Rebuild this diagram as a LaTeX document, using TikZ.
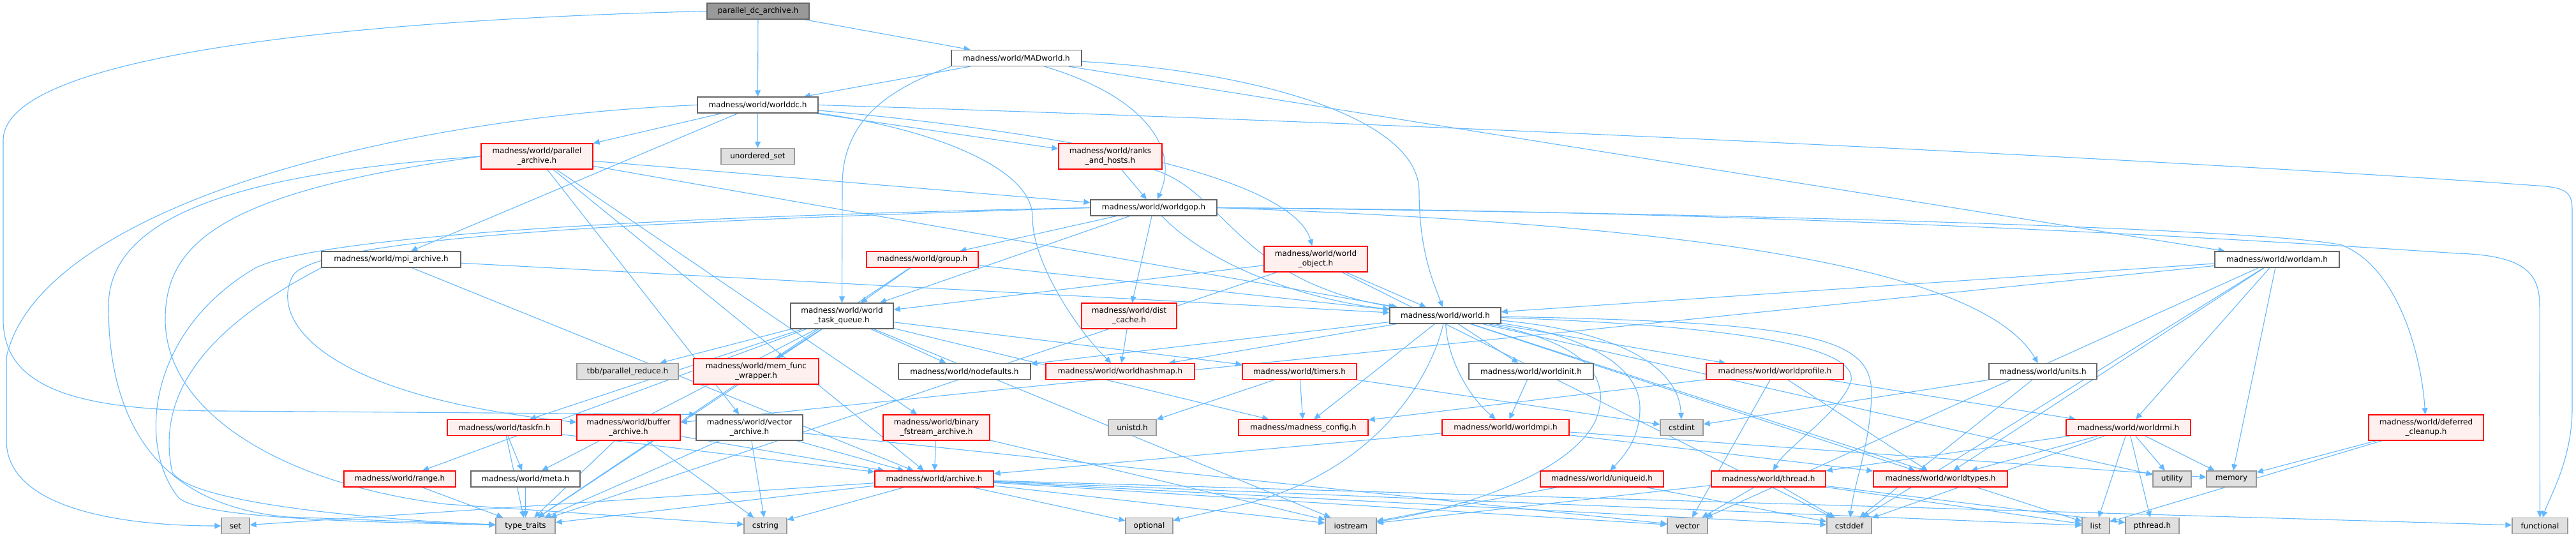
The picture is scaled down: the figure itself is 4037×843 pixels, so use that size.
\documentclass[tikz,border=0pt]{standalone}
\usepackage{fontspec}
\setmainfont{DejaVu Sans}
\usepackage{xcolor}
\usepackage{tikz}
\usetikzlibrary{arrows.meta, backgrounds}

\definecolor{edgeblue}{RGB}{99,184,255}
\definecolor{redline}{RGB}{255,0,0}
\definecolor{redfill}{RGB}{255,240,240}
\definecolor{sysfill}{RGB}{224,224,224}
\definecolor{sysline}{RGB}{153,153,153}
\definecolor{plainline}{RGB}{102,102,102}
\definecolor{rootfill}{RGB}{153,153,153}

\begin{document}
\begin{tikzpicture}[
    x=1pt, y=1pt,
    box/.style={rectangle, line width=1.3pt, inner sep=0pt, minimum height=25pt, align=center, text=black, font=\fontsize{12}{14.5}\selectfont},
    rootbox/.style={box, draw=plainline, fill=rootfill},
    filebox/.style={box, draw=plainline, fill=white},
    truncbox/.style={box, draw=redline, fill=redfill},
    sysbox/.style={box, draw=sysline, fill=sysfill},
    twoline/.style={minimum height=40pt},
    arrow/.style={-{Triangle[length=10pt, width=9pt]}, draw=edgeblue, line width=1.1pt}
]
\useasboundingbox (0,0) rectangle (4037,-843);

% Nodes
\node[rootbox, minimum width=160pt] (pdc) at (1188,-17.5) {parallel\_dc\_archive.h};
\node[filebox, minimum width=204pt] (madworld) at (1593,-91) {madness/world/MADworld.h};
\node[filebox, minimum width=189pt] (worlddc) at (1187.5,-164.5) {madness/world/worlddc.h};
\node[truncbox, twoline, minimum width=175pt] (parchive) at (841.5,-245) {madness/world/parallel\\\_archive.h};
\node[sysbox, minimum width=115pt] (unorderedset) at (1187.5,-245) {unordered\_set};
\node[truncbox, twoline, minimum width=162pt] (ranks) at (1740,-245) {madness/world/ranks\\\_and\_hosts.h};
\node[filebox, minimum width=198pt] (worldgop) at (1808,-325.5) {madness/world/worldgop.h};
\node[filebox, minimum width=218pt] (mpiarchive) at (613,-406.5) {madness/world/mpi\_archive.h};
\node[truncbox, minimum width=175pt] (group) at (1445.5,-406.5) {madness/world/group.h};
\node[truncbox, twoline, minimum width=162pt] (worldobject) at (2062,-406) {madness/world/world\\\_object.h};
\node[filebox, minimum width=195pt] (worldam) at (3568.5,-406.5) {madness/world/worldam.h};
\node[filebox, twoline, minimum width=161pt] (taskqueue) at (1319.5,-495) {madness/world/world\\\_task\_queue.h};
\node[truncbox, twoline, minimum width=149pt] (distcache) at (1769.5,-495) {madness/world/dist\\\_cache.h};
\node[filebox, minimum width=174pt] (world) at (2265,-494.5) {madness/world/world.h};
\node[sysbox, minimum width=159pt] (tbbreduce) at (983.5,-582) {tbb/parallel\_reduce.h};
\node[truncbox, twoline, minimum width=196pt] (memfunc) at (1185,-582) {madness/world/mem\_func\\\_wrapper.h};
\node[filebox, minimum width=207pt] (nodefaults) at (1511.5,-582) {madness/world/nodefaults.h};
\node[truncbox, minimum width=233pt] (hashmap) at (1755.5,-582) {madness/world/worldhashmap.h};
\node[truncbox, minimum width=179pt] (timers) at (2036.5,-582) {madness/world/timers.h};
\node[filebox, minimum width=195pt] (worldinit) at (2399.5,-582) {madness/world/worldinit.h};
\node[truncbox, minimum width=215pt] (profile) at (2781.5,-582) {madness/world/worldprofile.h};
\node[filebox, minimum width=169pt] (units) at (3201.5,-582) {madness/world/units.h};
\node[truncbox, minimum width=179pt] (taskfn) at (790.5,-670) {madness/world/taskfn.h};
\node[truncbox, twoline, minimum width=162pt] (bufarchive) at (985,-670) {madness/world/buffer\\\_archive.h};
\node[filebox, twoline, minimum width=167pt] (vecarchive) at (1174.5,-670) {madness/world/vector\\\_archive.h};
\node[truncbox, twoline, minimum width=167pt] (binarchive) at (1467.5,-670) {madness/world/binary\\\_fstream\_archive.h};
\node[sysbox, minimum width=75pt] (unistd) at (1774.5,-670) {unistd.h};
\node[truncbox, minimum width=203pt] (config) at (2042.5,-670) {madness/madness\_config.h};
\node[truncbox, minimum width=199pt] (worldmpi) at (2359.5,-670) {madness/world/worldmpi.h};
\node[sysbox, minimum width=67pt] (cstdint) at (2635.5,-670) {cstdint};
\node[truncbox, minimum width=195pt] (worldrmi) at (3335.5,-670) {madness/world/worldrmi.h};
\node[truncbox, twoline, minimum width=180pt] (cleanup) at (3802,-670) {madness/world/deferred\\\_cleanup.h};
\node[truncbox, minimum width=175pt] (range) at (626.5,-750.5) {madness/world/range.h};
\node[filebox, minimum width=171pt] (meta) at (823.5,-750.5) {madness/world/meta.h};
\node[truncbox, minimum width=186pt] (archive) at (1464,-750.5) {madness/world/archive.h};
\node[truncbox, minimum width=193pt] (uniqueid) at (2510.5,-750.5) {madness/world/uniqueid.h};
\node[truncbox, minimum width=179pt] (thread) at (2771.5,-750.5) {madness/world/thread.h};
\node[truncbox, minimum width=210pt] (worldtypes) at (3041,-750.5) {madness/world/worldtypes.h};
\node[sysbox, minimum width=60pt] (utility) at (3404,-750.5) {utility};
\node[sysbox, minimum width=78pt] (memory) at (3497,-750.5) {memory};
\node[sysbox, minimum width=44pt] (set) at (369,-824) {set};
\node[sysbox, minimum width=93pt] (typetraits) at (823.5,-824) {type\_traits};
\node[sysbox, minimum width=67pt] (cstring) at (1199.5,-824) {cstring};
\node[sysbox, minimum width=74pt] (optional) at (1801,-824) {optional};
\node[sysbox, minimum width=80pt] (iostream) at (2117,-824) {iostream};
\node[sysbox, minimum width=63pt] (vector) at (2644.5,-824) {vector};
\node[sysbox, minimum width=70pt] (cstddef) at (2898,-824) {cstddef};
\node[sysbox, minimum width=43pt] (list) at (3284.5,-824) {list};
\node[sysbox, minimum width=84pt] (pthread) at (3373,-824) {pthread.h};
\node[sysbox, minimum width=87pt] (functional) at (3980.5,-824) {functional};

% Arrows
\begin{scope}[on background layer]
\draw[arrow] (pdc) -- (madworld);
\draw[arrow] (pdc) -- (worlddc);
\draw[arrow] (pdc.west) .. controls (600,-30) and (5,-80) .. (5,-220) -- (5,-500) .. controls (5,-600) and (100,-644) .. (350,-644) -- (vecarchive.north west);
\draw[arrow] (madworld) -- (worlddc);
\draw[arrow] (madworld.south west) .. controls (1390,-140) and (1320,-190) .. (1320,-290) -- (taskqueue.north);
\draw[arrow] (madworld) .. controls (1790,-150) and (1850,-230) .. (worldgop);
\draw[arrow] (madworld) .. controls (1950,-110) and (2224,-180) .. (2224,-300) .. controls (2224,-400) and (2250,-450) .. (world);
\draw[arrow] (madworld) -- (worldam);
\draw[arrow] (worlddc) -- (parchive);
\draw[arrow] (worlddc) -- (unorderedset);
\draw[arrow] (worlddc) -- (ranks);
\draw[arrow] (worlddc) .. controls (1450,-200) and (1618,-260) .. (1618,-340) .. controls (1618,-420) and (1700,-530) .. (hashmap);
\draw[arrow] (worlddc) .. controls (1750,-215) and (2030,-290) .. (worldobject);
\draw[arrow] (worlddc) -- (mpiarchive);
\draw[arrow] (worlddc.west) .. controls (600,-185) and (60,-330) .. (10,-560) -- (10,-690) .. controls (10,-800) and (200,-824) .. (set);
\draw[arrow] (worlddc.east) .. controls (2600,-205) and (3700,-270) .. (3990,-292) .. controls (4025,-296) and (4031,-305) .. (4031,-330) -- (4031,-640) .. controls (4031,-720) and (3995,-780) .. (functional);
\draw[arrow] (parchive) -- (worldgop);
\draw[arrow] (parchive) -- (world);
\draw[arrow] (parchive) -- (archive);
\draw[arrow] (parchive) -- (binarchive);
\draw[arrow] (parchive) -- (vecarchive);
\draw[arrow] (parchive.west) .. controls (400,-270) and (170,-330) .. (170,-480) .. controls (170,-640) and (230,-790) .. (450,-810) -- (typetraits);
\draw[arrow] (parchive.west) .. controls (350,-300) and (259,-380) .. (259,-500) .. controls (259,-650) and (450,-760) .. (700,-790) -- (cstring);
\draw[arrow] (ranks) -- (worldgop);
\draw[arrow] (ranks) .. controls (1920,-300) and (1940,-440) .. (world);
\draw[arrow] (worldgop) -- (group);
\draw[arrow] (worldgop) -- (taskqueue);
\draw[arrow] (worldgop) -- (distcache);
\draw[arrow] (worldgop) .. controls (1900,-420) and (2050,-470) .. (world);
\draw[arrow] (worldgop.west) .. controls (1100,-345) and (520,-365) .. (460,-430) .. controls (420,-500) and (500,-620) .. (bufarchive);
\draw[arrow] (worldgop.west) .. controls (1000,-340) and (500,-370) .. (400,-420) .. controls (230,-520) and (215,-700) .. (280,-780) .. controls (320,-815) and (600,-818) .. (typetraits);
\draw[arrow] (worldgop.east) .. controls (2600,-350) and (3100,-410) .. (units);
\draw[arrow] (worldgop.east) .. controls (2800,-335) and (3560,-360) .. (3670,-384) .. controls (3760,-420) and (3795,-560) .. (cleanup);
\draw[arrow] (worldgop.east) .. controls (2800,-330) and (3600,-380) .. (3850,-397) .. controls (3960,-400) and (3980,-430) .. (3980,-480) -- (functional);
\draw[arrow] (mpiarchive) -- (world);
\draw[arrow] (mpiarchive) -- (archive);
\draw[arrow] (mpiarchive.south west) .. controls (350,-500) and (240,-600) .. (270,-740) .. controls (300,-790) and (600,-815) .. (typetraits);
\draw[arrow] (group) -- (taskqueue);
\draw[arrow] (group) -- (world);
\draw[arrow] (group) -- (typetraits);
\draw[arrow] (worldobject) -- (taskqueue);
\draw[arrow] (worldobject) -- (world);
\draw[arrow] (worldobject) -- (typetraits);
\draw[arrow] (worldobject) -- (cstddef);
\draw[arrow] (worldam) -- (world);
\draw[arrow] (worldam) -- (bufarchive);
\draw[arrow] (worldam) -- (worldrmi);
\draw[arrow] (worldam) -- (memory);
\draw[arrow] (worldam) -- (vector);
\draw[arrow] (worldam) -- (cstddef);
\draw[arrow] (worldam) -- (worldtypes);
\draw[arrow] (taskqueue) -- (tbbreduce);
\draw[arrow] (taskqueue) -- (memfunc);
\draw[arrow] (taskqueue) -- (nodefaults);
\draw[arrow] (taskqueue) -- (timers);
\draw[arrow] (taskqueue) -- (taskfn);
\draw[arrow] (taskqueue) -- (range);
\draw[arrow] (taskqueue) -- (meta);
\draw[arrow] (taskqueue) -- (config);
\draw[arrow] (taskqueue) -- (iostream);
\draw[arrow] (taskqueue) -- (typetraits);
\draw[arrow] (distcache) -- (hashmap);
\draw[arrow] (world) -- (nodefaults);
\draw[arrow] (world) -- (hashmap);
\draw[arrow] (world) -- (config);
\draw[arrow] (world) .. controls (2500,-540) and (2525,-600) .. (2500,-660) .. controls (2460,-740) and (2300,-795) .. (iostream);
\draw[arrow] (world) .. controls (2240,-600) and (2150,-740) .. (1950,-790) -- (optional);
\draw[arrow] (world) -- (worldinit);
\draw[arrow] (world) .. controls (2268,-560) and (2300,-620) .. (worldmpi);
\draw[arrow] (world) .. controls (2450,-520) and (2570,-560) .. (2570,-640) .. controls (2570,-690) and (2540,-720) .. (uniqueid);
\draw[arrow] (world) .. controls (2500,-515) and (2630,-560) .. (cstdint);
\draw[arrow] (world) -- (profile);
\draw[arrow] (world) .. controls (2700,-510) and (2920,-540) .. (2900,-600) .. controls (2880,-650) and (2800,-700) .. (thread);
\draw[arrow] (world) -- (worldtypes);
\draw[arrow] (world) .. controls (2850,-505) and (2935,-530) .. (2933,-620) .. controls (2930,-700) and (2905,-760) .. (cstddef);
\draw[arrow] (world) -- (list);
\draw[arrow] (world) -- (utility);
\draw[arrow] (timers) -- (config);
\draw[arrow] (timers) -- (unistd);
\draw[arrow] (timers) -- (cstdint);
\draw[arrow] (worldinit) -- (worldmpi);
\draw[arrow] (profile) -- (config);
\draw[arrow] (profile) -- (worldrmi);
\draw[arrow] (profile) -- (worldtypes);
\draw[arrow] (profile) -- (vector);
\draw[arrow] (units) -- (cstdint);
\draw[arrow] (units) -- (cstddef);
\draw[arrow] (taskfn) -- (meta);
\draw[arrow] (taskfn) -- (typetraits);
\draw[arrow] (taskfn) -- (archive);
\draw[arrow] (bufarchive) -- (archive);
\draw[arrow] (bufarchive) -- (typetraits);
\draw[arrow] (bufarchive) -- (cstring);
\draw[arrow] (vecarchive) -- (archive);
\draw[arrow] (vecarchive) -- (typetraits);
\draw[arrow] (vecarchive) -- (cstring);
\draw[arrow] (vecarchive) -- (vector);
\draw[arrow] (binarchive) -- (archive);
\draw[arrow] (binarchive) -- (iostream);
\draw[arrow] (worldmpi) -- (archive);
\draw[arrow] (worldmpi) -- (worldtypes);
\draw[arrow] (worldmpi) -- (memory);
\draw[arrow] (worldrmi) -- (thread);
\draw[arrow] (worldrmi) -- (worldtypes);
\draw[arrow] (worldrmi) -- (list);
\draw[arrow] (worldrmi) -- (pthread);
\draw[arrow] (worldrmi) -- (utility);
\draw[arrow] (worldrmi) -- (memory);
\draw[arrow] (worldrmi) -- (cstddef);
\draw[arrow] (cleanup) -- (memory);
\draw[arrow] (cleanup) -- (list);
\draw[arrow] (range) -- (typetraits);
\draw[arrow] (meta) -- (typetraits);
\draw[arrow] (archive) -- (typetraits);
\draw[arrow] (archive) -- (cstring);
\draw[arrow] (archive) -- (set);
\draw[arrow] (archive) -- (optional);
\draw[arrow] (archive) -- (iostream);
\draw[arrow] (archive) -- (vector);
\draw[arrow] (archive) -- (cstddef);
\draw[arrow] (archive) -- (list);
\draw[arrow] (archive) -- (functional);
\draw[arrow] (uniqueid) -- (iostream);
\draw[arrow] (uniqueid) -- (cstddef);
\draw[arrow] (thread) -- (vector);
\draw[arrow] (thread) -- (cstddef);
\draw[arrow] (thread) -- (list);
\draw[arrow] (thread) -- (pthread);
\draw[arrow] (thread) -- (iostream);
\end{scope}

\end{tikzpicture}
\end{document}
